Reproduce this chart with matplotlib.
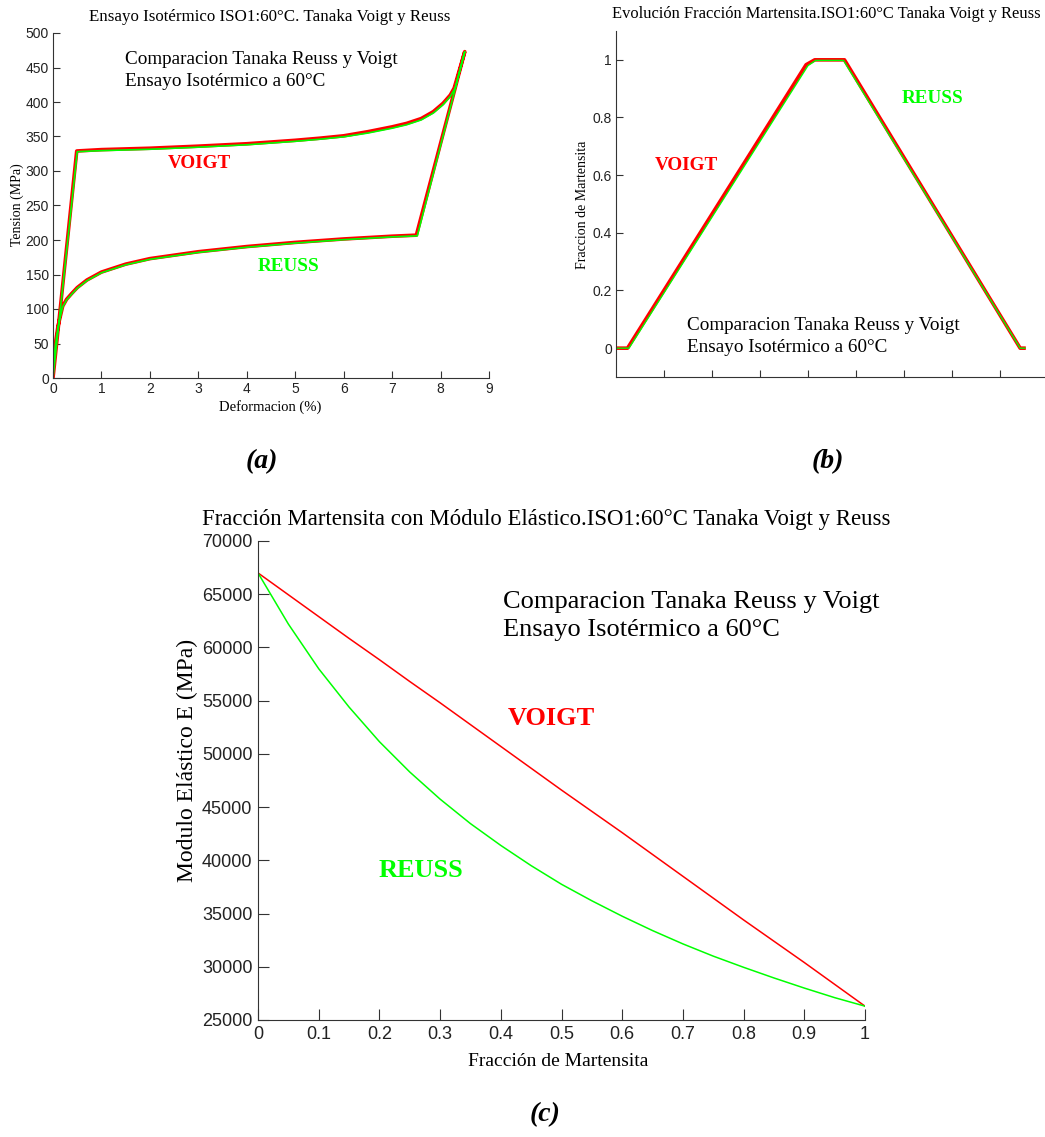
import numpy as np
import matplotlib.pyplot as plt
from matplotlib.ticker import FuncFormatter

# (a) tension - deformacion
def_voigt = [0, 0.49, 1.0, 2.0, 3.0, 4.0, 5.0, 5.5, 6.0, 6.5, 7.0, 7.3, 7.6, 7.85, 8.05, 8.2, 8.28, 8.5,
             7.5, 7.0, 6.0, 5.0, 4.0, 3.0, 2.0, 1.5, 1.0, 0.7, 0.5, 0.38, 0.28, 0.2, 0.14, 0.1, 0.05, 0.0]
ten_voigt = [0, 329, 331, 333, 336, 339.5, 344.5, 347.5, 351, 357, 364, 369, 376, 386, 398, 410, 420, 473,
             207, 205.5, 201.5, 196.5, 190.5, 183, 173, 165, 153.5, 142, 131, 122, 114, 104, 86, 74, 50, 20]
def_reuss = [0, 0.5, 1.0, 2.0, 3.0, 4.0, 5.0, 5.5, 6.0, 6.5, 7.0, 7.3, 7.6, 7.85, 8.05, 8.2, 8.3, 8.5,
             7.52, 7.0, 6.0, 5.0, 4.0, 3.0, 2.0, 1.5, 1.0, 0.7, 0.5, 0.38, 0.28, 0.2, 0.14, 0.1, 0.05, 0.0]
ten_reuss = [0, 328, 329.5, 331.5, 334.5, 338, 343, 346, 349.5, 355, 362, 367, 374, 384, 396, 408, 420, 473,
             206, 204.5, 200.5, 195.5, 189.5, 182, 172, 164, 152.5, 141, 130, 121, 113, 103, 85, 72, 48, 15]

# (b) evolucion fraccion martensita
paso_voigt = [0, 0.24, 3.96, 4.14, 4.76, 8.42, 8.5]
frac_voigt = [0, 0, 0.983, 1.0, 1.0, 0, 0]
paso_reuss = [0, 0.27, 4.0, 4.16, 4.74, 8.42, 8.52]
frac_reuss = [0, 0, 0.98, 0.998, 0.998, 0, 0]

# (c) modulo elastico - fraccion de martensita
xi = [0, 0.05, 0.1, 0.15, 0.2, 0.25, 0.3, 0.35, 0.4, 0.45, 0.5,
      0.55, 0.6, 0.65, 0.7, 0.75, 0.8, 0.85, 0.9, 0.95, 1.0]
e_voigt = [67000, 64950, 62900, 60850, 58850, 56800, 54800, 52750, 50700, 48650, 46600,
           44600, 42600, 40550, 38500, 36450, 34400, 32400, 30400, 28350, 26300]
e_reuss = [67000, 62200, 58000, 54400, 51150, 48300, 45750, 43450, 41400, 39500, 37750,
           36200, 34750, 33400, 32150, 31000, 29950, 28950, 28000, 27100, 26300]

W, H = 1045, 1137
RED = '#ff0000'
GREEN = '#00ff00'
SERIF = 'Liberation Serif'
SANS = 'Liberation Sans'
plt.rcParams['font.family'] = SANS

fig = plt.figure(figsize=(W / 100, H / 100), dpi=100)


def px_axes(l, t, r, b):
    return fig.add_axes([l / W, 1 - b / H, (r - l) / W, (b - t) / H])


def style(ax, size, ticklen, pad=3):
    for s in ['top', 'right']:
        ax.spines[s].set_visible(False)
    for s in ['left', 'bottom']:
        ax.spines[s].set_color('#333333')
    ax.tick_params(direction='in', length=ticklen, labelsize=size, colors='#333333',
                   labelcolor='#222222', pad=pad)


def ftext(x, y, s, **kw):
    fig.text(x / W, 1 - y / H, s, **kw)


fmt = FuncFormatter(lambda v, p: '%g' % v)

# ---- (a)
ax1 = px_axes(53, 33, 489, 378)
ax1.plot(def_voigt, ten_voigt, color=RED, lw=2.6)
ax1.plot(def_reuss, ten_reuss, color=GREEN, lw=1.2)
ax1.set_xlim(0, 9)
ax1.set_ylim(0, 500)
ax1.set_xticks(range(0, 10))
ax1.set_yticks(range(0, 501, 50))
style(ax1, 10, 5)
ax1.text(1.49, 462, 'Comparacion Tanaka Reuss y Voigt', family=SERIF, fontsize=13.8, va='center')
ax1.text(1.49, 430, 'Ensayo Isotérmico a 60°C', family=SERIF, fontsize=13.8, va='center')
ax1.text(2.37, 311, 'VOIGT', family=SERIF, fontsize=13.8, weight='bold', color=RED, va='center')
ax1.text(4.23, 161, 'REUSS', family=SERIF, fontsize=13.8, weight='bold', color=GREEN, va='center')
ftext(270, 17, 'Ensayo Isotérmico ISO1:60°C. Tanaka Voigt y Reuss', family=SERIF, fontsize=12.2,
      ha='center', va='center')
ftext(270, 407, 'Deformacion (%)', family=SERIF, fontsize=10.5, ha='center', va='center')
ftext(17, 205, 'Tension (MPa)', family=SERIF, fontsize=10, ha='center', va='center', rotation=90)
ftext(262, 462, '(a)', family=SERIF, fontsize=20, weight='bold', style='italic', ha='center', va='center')

# ---- (b)
ax2 = px_axes(616, 31, 1048, 377)
ax2.plot(paso_voigt, frac_voigt, color=RED, lw=2.6)
ax2.plot(paso_reuss, frac_reuss, color=GREEN, lw=1.0)
ax2.set_xlim(0, 9)
ax2.set_ylim(-0.1, 1.1)
ax2.set_xticks(range(1, 9))
ax2.set_xticklabels([])
ax2.set_yticks([0, 0.2, 0.4, 0.6, 0.8, 1.0])
ax2.yaxis.set_major_formatter(fmt)
style(ax2, 10, 5)
ax2.text(0.81, 0.635, 'VOIGT', family=SERIF, fontsize=13.8, weight='bold', color=RED, va='center')
ax2.text(5.95, 0.865, 'REUSS', family=SERIF, fontsize=13.8, weight='bold', color=GREEN, va='center')
ax2.text(1.47, 0.08, 'Comparacion Tanaka Reuss y Voigt', family=SERIF, fontsize=13.8, va='center')
ax2.text(1.47, 0.003, 'Ensayo Isotérmico a 60°C', family=SERIF, fontsize=13.8, va='center')
ftext(612, 14, 'Evolución Fracción Martensita.ISO1:60°C Tanaka Voigt y Reuss', family=SERIF,
      fontsize=11.9, ha='left', va='center')
ftext(582, 205, 'Fraccion de Martensita', family=SERIF, fontsize=10, ha='center', va='center',
      rotation=90)
ftext(828, 462, '(b)', family=SERIF, fontsize=20, weight='bold', style='italic', ha='center', va='center')

# ---- (c)
ax3 = px_axes(258, 541, 865, 1020)
ax3.plot(xi, e_voigt, color=RED, lw=1.1)
ax3.plot(xi, e_reuss, color=GREEN, lw=1.1)
ax3.set_xlim(0, 1)
ax3.set_ylim(25000, 70000)
ax3.set_xticks(np.arange(0, 11) / 10)
ax3.xaxis.set_major_formatter(fmt)
ax3.set_yticks(range(25000, 70001, 5000))
style(ax3, 13, 8, pad=4)
ax3.text(0.404, 64280, 'Comparacion Tanaka Reuss y Voigt', family=SERIF, fontsize=19, va='center')
ax3.text(0.404, 61620, 'Ensayo Isotérmico a 60°C', family=SERIF, fontsize=19, va='center')
ax3.text(0.411, 53340, 'VOIGT', family=SERIF, fontsize=19, weight='bold', color=RED, va='center')
ax3.text(0.199, 39010, 'REUSS', family=SERIF, fontsize=19, weight='bold', color=GREEN, va='center')
ftext(202, 519, 'Fracción Martensita con Módulo Elástico.ISO1:60°C Tanaka Voigt y Reuss',
      family=SERIF, fontsize=16.4, ha='left', va='center')
ftext(558, 1062, 'Fracción de Martensita', family=SERIF, fontsize=14, ha='center', va='center')
ftext(187, 760, 'Modulo Elástico E (MPa)', family=SERIF, fontsize=17, ha='center', va='center',
      rotation=90)
ftext(545, 1115, '(c)', family=SERIF, fontsize=20, weight='bold', style='italic', ha='center', va='center')

fig.savefig('out.png', dpi=100)
